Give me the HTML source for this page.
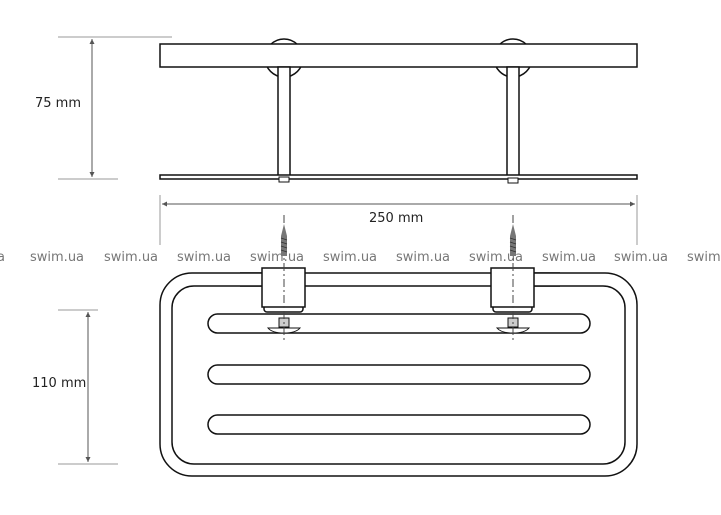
<!DOCTYPE html>
<html><head><meta charset="utf-8"><style>
html,body{margin:0;padding:0;background:#fff;}
svg{display:block;}
text{font-family:"DejaVu Sans","Liberation Sans",sans-serif;}
</style></head><body>
<svg width="721" height="515" viewBox="0 0 721 515" xmlns="http://www.w3.org/2000/svg">
<defs>
<marker id="ar" viewBox="0 0 6 6" refX="6" refY="3" markerWidth="5" markerHeight="5" orient="auto-start-reverse"><path d="M0,0L6,3L0,6z" fill="#555"/></marker>
</defs>
<g stroke="#999" stroke-width="1" fill="none">
<line x1="58" y1="37" x2="172" y2="37"/>
<line x1="58" y1="179" x2="118" y2="179"/>
<line x1="58" y1="310" x2="98" y2="310"/>
<line x1="58" y1="464" x2="118" y2="464"/>
<line x1="160" y1="195" x2="160" y2="245"/>
<line x1="637" y1="195" x2="637" y2="245"/>
</g>
<g stroke="#555" stroke-width="1">
<line x1="92" y1="39" x2="92" y2="177" marker-start="url(#ar)" marker-end="url(#ar)"/>
<line x1="88" y1="312" x2="88" y2="462" marker-start="url(#ar)" marker-end="url(#ar)"/>
<line x1="162" y1="204" x2="635" y2="204" marker-start="url(#ar)" marker-end="url(#ar)"/>
</g>
<g font-size="13" fill="#222">
<text x="35" y="107">75 mm</text>
<text x="32" y="387">110 mm</text>
<text x="369" y="222">250 mm</text>
</g>
<g stroke="#111" stroke-width="1.5" fill="#fff">
<circle cx="284" cy="58" r="19"/>
<circle cx="513" cy="58" r="19"/>
<rect x="160" y="44" width="477" height="23"/>
<rect x="278" y="67" width="12" height="109"/>
<rect x="507" y="67" width="12" height="109"/>
<rect x="160" y="175" width="477" height="4"/>
<rect x="279" y="177" width="10" height="5" stroke-width="1"/>
<rect x="508" y="178" width="10" height="5" stroke-width="1"/>
</g>
<g font-size="13" fill="#777">
<text x="-3" y="261">a</text>
<text x="30" y="261">swim.ua</text>
<text x="104" y="261">swim.ua</text>
<text x="177" y="261">swim.ua</text>
<text x="250" y="261">swim.ua</text>
<text x="323" y="261">swim.ua</text>
<text x="396" y="261">swim.ua</text>
<text x="469" y="261">swim.ua</text>
<text x="542" y="261">swim.ua</text>
<text x="614" y="261">swim.ua</text>
<text x="687" y="261">swim.</text>
</g>
<g stroke="#111" stroke-width="1.5" fill="none">
<rect x="160" y="273" width="477" height="203" rx="32"/>
<rect x="172" y="286" width="453" height="178" rx="22"/>
<rect x="208" y="314" width="382" height="19" rx="9.5" fill="#fff"/>
<rect x="208" y="365" width="382" height="19" rx="9.5"/>
<rect x="208" y="415" width="382" height="19" rx="9.5"/>
</g>
<g stroke="#111" stroke-width="1.5" fill="#fff">
<rect x="240" y="273" width="26" height="13" stroke="none"/>
<path d="M240,273H266V286H240" />
<rect x="264" y="305" width="39" height="7" rx="3"/>
<rect x="262" y="268" width="43" height="39"/>
<rect x="530" y="273" width="30" height="13" stroke="none"/>
<path d="M560,273H530V286H560"/>
<rect x="493" y="305" width="39" height="7" rx="3"/>
<rect x="491" y="268" width="43" height="39"/>
<rect x="279" y="318" width="10" height="9" stroke-width="1" fill="#ccc"/>
<path d="M268,328H300Q296,333 284,333Q272,333 268,328Z" stroke-width="1"/>
<rect x="508" y="318" width="10" height="9" stroke-width="1" fill="#ccc"/>
<path d="M497,328H529Q525,333 513,333Q501,333 497,328Z" stroke-width="1"/>
</g>
<g stroke="#444" stroke-width="1" fill="none">
<line x1="284" y1="215" x2="284" y2="342" stroke-dasharray="8,3,2,3"/>
<line x1="513" y1="215" x2="513" y2="342" stroke-dasharray="8,3,2,3"/>
</g>
<g fill="#777">
<path d="M284,224L287,236V256H281V236Z"/>
<path d="M513,224L516,236V256H510V236Z"/>
</g>
<g stroke="#333" stroke-width="0.8">
<path d="M281,238L287,240M281,242L287,244M281,246L287,248M281,250L287,252"/>
<path d="M510,238L516,240M510,242L516,244M510,246L516,248M510,250L516,252"/>
</g>
</svg>
</body></html>
